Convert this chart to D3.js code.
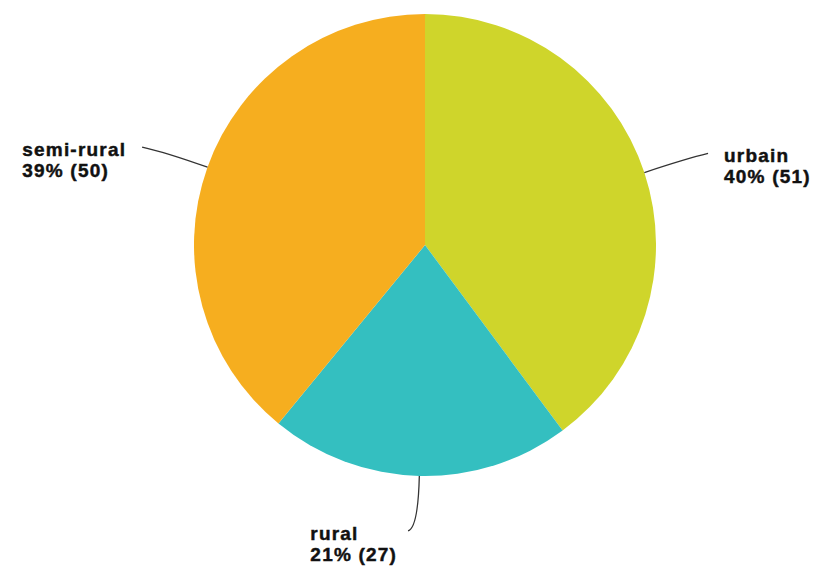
<!DOCTYPE html>
<html>
<head>
<meta charset="utf-8">
<script src="https://cdn.jsdelivr.net/npm/d3@7"></script>
<style>
  html, body { margin: 0; padding: 0; background: #ffffff; }
  svg { display: block; }
  text { font-family: "Liberation Sans", Arial, sans-serif; font-weight: bold; font-size: 19px; letter-spacing: 1.2px; fill: #111; stroke: #111; stroke-width: 0.45px; }
</style>
</head>
<body>
<svg id="chart" width="818" height="567"></svg>
<script>
const categories = ["urbain", "rural", "semi-rural"];
const values = [51, 27, 50];
const colors = ["#CFD52B", "#34BFC0", "#F6AE1F"];

const W = 818, H = 567;
const cx = 425, cy = 245, R = 231;

const svg = d3.select("#chart");
const g = svg.append("g").attr("transform", `translate(${cx},${cy})`);

const total = d3.sum(values);
const data = categories.map((c, i) => ({ name: c, value: values[i], color: colors[i] }));

const pie = d3.pie().value(d => d.value).sort(null);
const arcs = pie(data);
const arc = d3.arc().innerRadius(0).outerRadius(R);

g.selectAll("path.slice").data(arcs).enter().append("path")
  .attr("class", "slice")
  .attr("d", arc)
  .attr("fill", d => d.data.color);

// connectors + labels
arcs.forEach(a => {
  const mid = (a.startAngle + a.endAngle) / 2;
  const dx = Math.sin(mid), dy = -Math.cos(mid);
  const sx = dx * R, sy = dy * R;
  const right = mid < Math.PI;
  const isBottom = Math.abs(mid - Math.PI) < 0.4;
  const c1 = isBottom ? 52 : 45;
  const qx = sx + dx * c1, qy = sy + dy * c1;
  let ex, ey;
  if (isBottom) { ex = qx - 10; ey = qy + 3; }
  else { ex = right ? qx + 21 : qx - 23; ey = qy - 5; }
  g.append("path")
    .attr("d", `M${sx},${sy} Q${qx},${qy} ${ex},${ey}`)
    .attr("fill", "none")
    .attr("stroke", "#333")
    .attr("stroke-width", 1.3);

  const pct = Math.round(a.data.value / total * 100);
  const lines = [a.data.name, `${pct}% (${a.data.value})`];
  const t = g.append("text");
  lines.forEach((ln, i) => {
    t.append("tspan").attr("dy", i === 0 ? 0 : 21).text(ln);
  });
  const gap = isBottom ? 11 : 16;
  let bw = 0;
  t.selectAll("tspan").each(function() { bw = Math.max(bw, this.getComputedTextLength()); });
  const tx = right ? ex + gap : ex - gap - bw;
  t.attr("y", ey + 9);
  t.selectAll("tspan").attr("x", tx);
});
</script>
</body>
</html>
